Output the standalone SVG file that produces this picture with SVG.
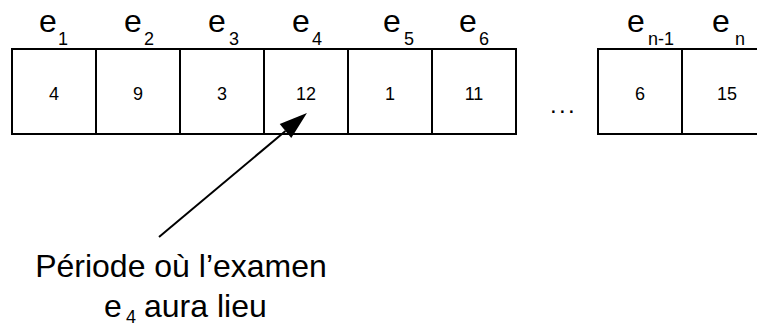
<svg xmlns="http://www.w3.org/2000/svg" width="757" height="328" viewBox="0 0 757 328">
  <style>
    .cell { fill: #ffffff; stroke: #000000; stroke-width: 2; }
    .txt { font-family: "Liberation Sans", Arial, Helvetica, sans-serif; fill: #000000; }
    .val { font-size: 18px; text-anchor: middle; }
    .e { font-size: 32px; }
    .sub { font-size: 18px; }
    .note { font-size: 32px; }
    .link { stroke: #000000; stroke-width: 2; fill: none; }
  </style>
  <defs>
    <marker id="head" markerUnits="userSpaceOnUse" markerWidth="28" markerHeight="18" refX="0" refY="9" orient="auto" overflow="visible">
      <path d="M0,0 L28,9 L0,18 Z" fill="#000000"/>
    </marker>
  </defs>
  <rect width="757" height="328" fill="#ffffff"/>

  <!-- exam periods -->
  <g id="cell-e1">
    <rect class="cell" x="12" y="49" width="84" height="85"/>
    <text class="txt e" x="39" y="32">e</text>
    <text class="txt sub" x="58" y="45">1</text>
    <text class="txt val" x="54" y="100">4</text>
  </g>
  <g id="cell-e2">
    <rect class="cell" x="96" y="49" width="84" height="85"/>
    <text class="txt e" x="124" y="32">e</text>
    <text class="txt sub" x="144" y="45">2</text>
    <text class="txt val" x="138" y="100">9</text>
  </g>
  <g id="cell-e3">
    <rect class="cell" x="180" y="49" width="84" height="85"/>
    <text class="txt e" x="208" y="32">e</text>
    <text class="txt sub" x="229" y="45">3</text>
    <text class="txt val" x="222" y="100">3</text>
  </g>
  <g id="cell-e4">
    <rect class="cell" x="264" y="49" width="84" height="85"/>
    <text class="txt e" x="292" y="32">e</text>
    <text class="txt sub" x="312" y="45">4</text>
    <text class="txt val" x="306" y="100">12</text>
  </g>
  <g id="cell-e5">
    <rect class="cell" x="348" y="49" width="84" height="85"/>
    <text class="txt e" x="383" y="32">e</text>
    <text class="txt sub" x="404" y="45">5</text>
    <text class="txt val" x="390" y="100">1</text>
  </g>
  <g id="cell-e6">
    <rect class="cell" x="432" y="49" width="84" height="85"/>
    <text class="txt e" x="459" y="32">e</text>
    <text class="txt sub" x="479" y="45">6</text>
    <text class="txt val" x="474" y="100">11</text>
  </g>
  <g id="ellipsis">
    <text class="txt" x="550" y="113" font-size="24" letter-spacing="2.3">...</text>
  </g>
  <g id="cell-en-1">
    <rect class="cell" x="598" y="49" width="84" height="85"/>
    <text class="txt e" x="627" y="32">e</text>
    <text class="txt sub" x="648" y="45">n-1</text>
    <text class="txt val" x="640" y="100">6</text>
  </g>
  <g id="cell-en">
    <rect class="cell" x="682" y="49" width="84" height="85"/>
    <text class="txt e" x="712" y="32">e</text>
    <text class="txt sub" x="735" y="45">n</text>
    <text class="txt val" x="727" y="100">15</text>
  </g>

  <!-- caption -->
  <g id="caption">
    <text class="txt note" x="181" y="277" text-anchor="middle">Période où l’examen</text>
    <text class="txt note" x="104" y="317">e</text>
    <text class="txt sub" x="126" y="323">4</text>
    <text class="txt note" x="144" y="317">aura lieu</text>
  </g>

  <!-- pointer from caption to e4 -->
  <g id="connectors">
    <path class="link" d="M159,237 L285.5,131" marker-end="url(#head)"/>
  </g>
</svg>
